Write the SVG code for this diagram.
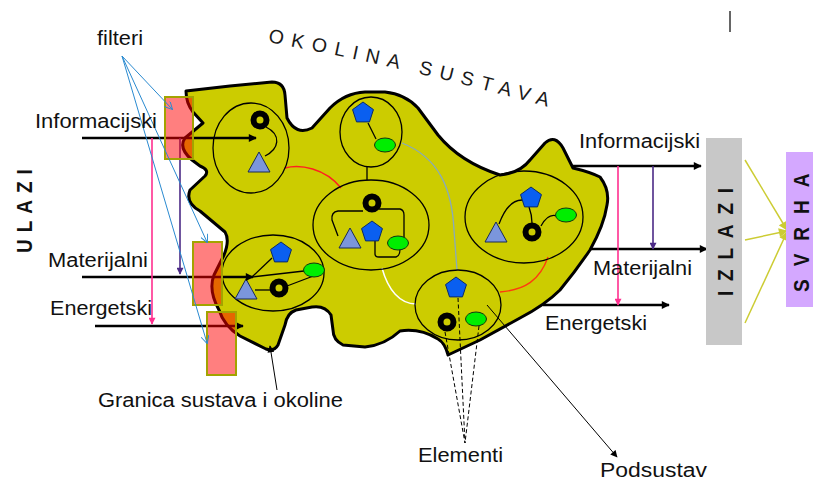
<svg xmlns="http://www.w3.org/2000/svg" width="813" height="480" viewBox="0 0 813 480">
<style>
.lbl{font-family:"Liberation Sans",Arial,sans-serif;font-size:20px;fill:#111}
.vt{font-family:"Liberation Sans",Arial,sans-serif;font-weight:bold;font-size:19px;fill:#111}
.sub{fill:none;stroke:#000;stroke-width:1.3}
.wire{fill:none;stroke:#000;stroke-width:1.3}
.arr{stroke:#000;stroke-width:2.5;fill:none}
.filter{fill:#ff0000;fill-opacity:0.5;stroke:#a3a300;stroke-width:2}
.dash{stroke:#000;stroke-width:1;stroke-dasharray:4 2.5;fill:none}
</style>
<defs>
<marker id="ahk" viewBox="0 0 10 10" refX="9" refY="5" markerWidth="10" markerHeight="8" markerUnits="userSpaceOnUse" orient="auto"><path d="M0,0 L10,5 L0,10 z" fill="#000"/></marker>
<marker id="ahs" viewBox="0 0 10 10" refX="9" refY="5" markerWidth="8" markerHeight="7" markerUnits="userSpaceOnUse" orient="auto"><path d="M0,0 L10,5 L0,10 z" fill="#000"/></marker>
<marker id="ahp" viewBox="0 0 10 10" refX="9" refY="5" markerWidth="8" markerHeight="7" markerUnits="userSpaceOnUse" orient="auto"><path d="M0,0 L10,5 L0,10 z" fill="#ff2f8f"/></marker>
<marker id="ahv" viewBox="0 0 10 10" refX="9" refY="5" markerWidth="8" markerHeight="7" markerUnits="userSpaceOnUse" orient="auto"><path d="M0,0 L10,5 L0,10 z" fill="#4b2a86"/></marker>
<marker id="ahy" viewBox="0 0 10 10" refX="9" refY="5" markerWidth="10" markerHeight="9" markerUnits="userSpaceOnUse" orient="auto"><path d="M0,0 L10,5 L0,10 z" fill="#cccc33"/></marker>
<marker id="ahb" viewBox="0 0 10 10" refX="9" refY="5" markerWidth="9" markerHeight="8" markerUnits="userSpaceOnUse" orient="auto"><path d="M0,0 L10,5 L0,10" fill="none" stroke="#2a8ad0" stroke-width="1.2"/></marker>
<polygon id="pent" points="0,-11 10.46,-3.4 6.47,8.9 -6.47,8.9 -10.46,-3.4" fill="#0a5ff0" stroke="#0a2a66" stroke-width="1"/>
<polygon id="tri" points="0,-11 11,9 -11,9" fill="#7b96dc" stroke="#1a2a55" stroke-width="1"/>
<ellipse id="oval" rx="10.5" ry="7" fill="#00ee00" stroke="#113311" stroke-width="1"/>
<circle id="ring" r="6.5" fill="none" stroke="#000" stroke-width="6"/>
<path id="okpath" d="M 268,42 Q 405,67 556,109"/>
</defs>
<rect width="813" height="480" fill="#fff"/>

<g id="system">
<path d="M 186,91 L 230,86 L 272,82 Q 284,82 285,95 L 287,118 Q 296,136 312,128 L 330,108 Q 345,93 365,92 L 385,92 Q 405,94 418,108 L 438,135 Q 460,162 500,175 Q 520,173 530,160 L 545,143 Q 555,134 563,148 L 573,168 Q 590,172 600,177 Q 610,190 607,205 Q 604,225 590,250 Q 575,272 560,290 Q 545,305 520,318 L 480,340 L 448,355 Q 445,343 438,339 Q 420,328 400,331 Q 385,345 365,347 L 343,345 Q 333,340 333,330 L 331,315 Q 325,305 312,307 L 296,310 Q 287,313 285,325 L 278,345 Q 274,352 266,349 L 240,336 Q 224,326 219,310 Q 208,290 214,275 L 224,255 Q 230,240 225,232 L 200,211 Q 185,203 190,190 L 205,176 Q 210,170 200,166 L 192,160 Q 178,148 185,138 L 203,123 L 193,112 Q 186,103 186,91 Z" fill="#cccc00" stroke="#000" stroke-width="3" stroke-linejoin="round"/>
</g>

<g id="internal-links">
<path d="M 285,168 C 300,164 325,168 341,188" fill="none" stroke="#ff2020" stroke-width="1.4"/>
<path d="M 402,143 C 440,158 452,190 454,230 L 457,270" fill="none" stroke="#88aabb" stroke-width="1.3"/>
<path d="M 382,268 C 388,290 400,304 416,304" fill="none" stroke="#ffffff" stroke-width="1.5"/>
<path d="M 548,257 C 540,280 525,290 500,292" fill="none" stroke="#ff3a10" stroke-width="1.4"/>
<line x1="367" y1="167" x2="367" y2="180" class="wire"/>
</g>

<g id="subsystem-1">
<ellipse cx="251" cy="148" rx="38" ry="45" class="sub"/>
<path d="M 266,127 C 282,135 279,149 265,156" class="wire"/>
<use href="#ring" x="260" y="120"/>
<use href="#tri" x="259" y="163"/>
</g>

<g id="subsystem-2">
<ellipse cx="371" cy="132" rx="31" ry="35" class="sub"/>
<line x1="368" y1="123" x2="376" y2="139" class="wire"/>
<use href="#pent" x="363" y="113"/>
<use href="#oval" x="385" y="145"/>
</g>

<g id="subsystem-3">
<ellipse cx="371" cy="225" rx="58" ry="45" class="sub"/>
<path d="M 363,211 L 338,211 Q 331,212 332,220 L 338,236" class="wire"/>
<path d="M 379,209 L 400,209 Q 404,210 404,215 L 404,237" class="wire"/>
<path d="M 375,240 L 375,254 Q 375,257 379,257 L 396,257 Q 400,256 400,249" class="wire"/>
<use href="#ring" x="372" y="203"/>
<use href="#tri" x="350" y="239"/>
<use href="#pent" x="372" y="232"/>
<use href="#oval" x="398" y="243"/>
</g>

<g id="subsystem-4">
<ellipse cx="524" cy="217" rx="59" ry="46" class="sub"/>
<path d="M 499,224 C 505,208 512,200 522,200" class="wire"/>
<path d="M 529,207 Q 532,215 532,223" class="wire"/>
<path d="M 541,226 Q 548,213 557,216" class="wire"/>
<use href="#pent" x="531" y="198"/>
<use href="#oval" x="566" y="215"/>
<use href="#tri" x="496" y="233"/>
<use href="#ring" x="532" y="232"/>
</g>

<g id="subsystem-5">
<ellipse cx="273" cy="273" rx="51" ry="38" class="sub"/>
<line x1="252" y1="277" x2="272" y2="258" class="wire"/>
<line x1="252" y1="277" x2="304" y2="271" class="wire"/>
<line x1="316" y1="275" x2="287" y2="286" class="wire"/>
<line x1="255" y1="290" x2="271" y2="290" class="wire"/>
<use href="#pent" x="281" y="253"/>
<use href="#oval" x="314" y="270"/>
<use href="#tri" x="246" y="290"/>
<use href="#ring" x="279" y="288"/>
</g>

<g id="subsystem-6">
<ellipse cx="458" cy="305" rx="43" ry="35" class="sub"/>
<use href="#pent" x="456" y="288"/>
<use href="#ring" x="447" y="322"/>
<use href="#oval" x="476" y="319"/>
</g>

<g id="connectors">
<line x1="82" y1="138" x2="256" y2="138" class="arr" marker-end="url(#ahk)"/>
<line x1="82" y1="277" x2="253" y2="277" class="arr" marker-end="url(#ahk)"/>
<line x1="95" y1="326" x2="243" y2="326" class="arr" marker-end="url(#ahk)"/>
<line x1="152" y1="138" x2="152" y2="324" stroke="#ff2f8f" stroke-width="1.6" marker-end="url(#ahp)"/>
<line x1="180" y1="138" x2="180" y2="274" stroke="#4b2a86" stroke-width="1.6" marker-end="url(#ahv)"/>
<line x1="573" y1="166" x2="701" y2="166" class="arr" marker-end="url(#ahk)"/>
<line x1="590" y1="249" x2="707" y2="249" class="arr" marker-end="url(#ahk)"/>
<line x1="543" y1="305" x2="669" y2="305" class="arr" marker-end="url(#ahk)"/>
<line x1="618" y1="166" x2="618" y2="305" stroke="#ff2f8f" stroke-width="1.6" marker-end="url(#ahp)"/>
<line x1="653" y1="166" x2="653" y2="249" stroke="#4b2a86" stroke-width="1.6" marker-end="url(#ahv)"/>
<line x1="745" y1="160" x2="787" y2="230" stroke="#cccc33" stroke-width="1.5" marker-end="url(#ahy)"/>
<line x1="745" y1="240" x2="787" y2="231" stroke="#cccc33" stroke-width="1.5" marker-end="url(#ahy)"/>
<line x1="745" y1="323" x2="787" y2="232" stroke="#cccc33" stroke-width="1.5" marker-end="url(#ahy)"/>
<line x1="277" y1="390" x2="270" y2="346" stroke="#000" stroke-width="1" marker-end="url(#ahs)"/>
<line x1="487" y1="305" x2="617" y2="457" stroke="#000" stroke-width="1" marker-end="url(#ahs)"/>
<line x1="445" y1="332" x2="465" y2="443" class="dash"/>
<line x1="458" y1="298" x2="465" y2="443" class="dash"/>
<line x1="479" y1="326" x2="465" y2="443" class="dash"/>
</g>

<g id="filters">
<rect x="165" y="97" width="28" height="62" class="filter"/>
<rect x="193" y="242" width="29" height="63" class="filter"/>
<rect x="207" y="312" width="29" height="63" class="filter"/>
</g>

<g id="filter-pointers">
<line x1="122" y1="56" x2="172" y2="109" stroke="#2a8ad0" stroke-width="1" marker-end="url(#ahb)"/>
<line x1="122" y1="56" x2="207" y2="242" stroke="#2a8ad0" stroke-width="1" marker-end="url(#ahb)"/>
<line x1="122" y1="56" x2="207" y2="343" stroke="#2a8ad0" stroke-width="1" marker-end="url(#ahb)"/>
</g>

<g id="izlazi">
<rect x="706" y="138" width="36" height="207" fill="#c8c8c8"/>
<text class="vt" transform="translate(733,296) scale(1.2,1) rotate(-90)" letter-spacing="9.8">IZLAZI</text>
</g>

<g id="svrha">
<rect x="786" y="152" width="27" height="155" fill="#d4a8ff"/>
<text class="vt" transform="translate(809,292) scale(1.2,1) rotate(-90)" letter-spacing="13">SVRHA</text>
</g>

<g id="labels">
<text class="lbl" x="97" y="45" textLength="46" lengthAdjust="spacingAndGlyphs">filteri</text>
<text class="lbl" x="35" y="128" textLength="122" lengthAdjust="spacingAndGlyphs">Informacijski</text>
<text class="lbl" x="48" y="267" textLength="100" lengthAdjust="spacingAndGlyphs">Materijalni</text>
<text class="lbl" x="50" y="315" textLength="102" lengthAdjust="spacingAndGlyphs">Energetski</text>
<text class="lbl" x="98" y="407" textLength="245" lengthAdjust="spacingAndGlyphs">Granica sustava i okoline</text>
<text class="lbl" x="579" y="148" textLength="121" lengthAdjust="spacingAndGlyphs">Informacijski</text>
<text class="lbl" x="593" y="275" textLength="99" lengthAdjust="spacingAndGlyphs">Materijalni</text>
<text class="lbl" x="545" y="330" textLength="102" lengthAdjust="spacingAndGlyphs">Energetski</text>
<text class="lbl" x="418" y="462" textLength="85" lengthAdjust="spacingAndGlyphs">Elementi</text>
<text class="lbl" x="600" y="477" textLength="107" lengthAdjust="spacingAndGlyphs">Podsustav</text>
<text class="vt" transform="translate(32,253) scale(1.2,1) rotate(-90)" letter-spacing="7">ULAZI</text>
<text style="font-family:'Liberation Sans',Arial,sans-serif;font-size:19.5px;fill:#1a1a1a" letter-spacing="7.8"><textPath href="#okpath">OKOLINA SUSTAVA</textPath></text>
<line x1="730" y1="11" x2="730" y2="32" stroke="#666" stroke-width="2"/>
</g>
</svg>
